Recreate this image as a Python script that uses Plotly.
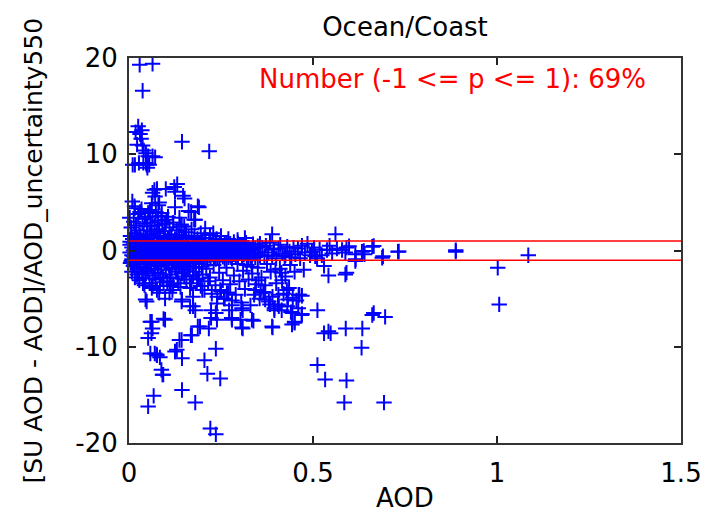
import plotly.graph_objects as go

# ---- data (AOD, normalized difference) ----
high_pts = [
    (0.029, 19.3), (0.064, 19.4), (0.037, 16.6),
    (0.025, 12.9), (0.018, 12.3), (0.030, 12.1), (0.033, 11.6), (0.037, 10.9), (0.040, 10.4),
    (0.046, 10.1), (0.052, 9.8), (0.064, 9.8), (0.046, 9.1), (0.055, 8.9), (0.010, 8.9),
    (0.027, 9.1), (0.039, 9.1), (0.050, 8.6), (0.022, 11.0), (0.035, 12.5), (0.071, 9.7),
    (0.016, 8.9), (0.048, 8.9), (0.144, 11.3), (0.218, 10.3),
    (0.131, 6.9), (0.123, 6.6), (0.076, 6.4), (0.100, 6.4), (0.064, 6.0), (0.147, 5.7),
    (0.187, 4.6), (0.009, 5.1), (0.015, 4.6), (0.082, 5.0), (0.162, 4.1), (0.177, 3.2),
    (0.002, 3.4), (0.137, 3.4), (0.069, 6.3), (0.125, 6.1), (0.151, 5.4), (0.125, 4.5),
    (0.190, 4.5), (0.169, 4.0), (0.180, 3.2), (0.106, 3.5), (0.016, 4.4), (0.030, 4.0),
    (0.044, 3.5), (0.071, 5.6), (0.062, 4.9), (0.080, 4.7), (0.057, 4.2), (0.089, 3.9),
]

upper_pts = [
    (0.004, 1.5), (0.006, 2.4), (0.010, 1.2), (0.013, 3.0), (0.016, 1.8), (0.019, 2.6),
    (0.022, 1.3), (0.025, 3.8), (0.028, 2.1), (0.031, 1.5), (0.034, 4.3), (0.037, 2.8),
    (0.040, 1.7), (0.043, 3.3), (0.046, 1.2), (0.049, 2.5), (0.052, 3.9), (0.055, 1.6),
    (0.058, 2.9), (0.061, 2.0), (0.064, 3.5), (0.067, 1.3), (0.070, 2.6), (0.073, 4.0),
    (0.076, 1.8), (0.079, 3.1), (0.082, 2.2), (0.085, 1.4), (0.088, 3.6), (0.091, 2.7),
    (0.094, 1.5), (0.098, 2.0), (0.102, 3.2), (0.106, 1.3), (0.110, 2.4), (0.115, 1.7),
    (0.120, 2.9), (0.125, 1.2), (0.130, 2.1), (0.136, 1.6), (0.142, 2.7), (0.148, 1.3),
    (0.155, 1.9), (0.162, 1.4), (0.170, 2.2), (0.178, 1.5), (0.186, 1.2), (0.195, 1.8),
    (0.205, 1.3), (0.220, 1.6), (0.238, 1.2), (0.250, 1.5), (0.270, 1.2), (0.295, 1.1),
    (0.315, 1.3), (0.150, 2.5), (0.143, 2.5), (0.098, 2.8), (0.207, 2.3), (0.229, 1.8),
]

band_pts = [
    (0.003, 0.6), (0.003, -0.2), (0.003, 0.9), (0.008, -0.5), (0.008, 0.3), (0.008, -0.9),
    (0.012, 0.8), (0.012, 0.0), (0.012, -0.6), (0.017, -0.3), (0.017, 0.5), (0.017, 0.95),
    (0.021, 0.2), (0.021, -0.8), (0.021, 0.7), (0.026, -0.1), (0.026, 0.6), (0.026, -0.5),
    (0.030, 0.4), (0.030, -0.7), (0.030, 0.9), (0.034, -0.4), (0.034, 0.1), (0.034, 0.75),
    (0.039, 0.6), (0.039, -0.9), (0.039, -0.2), (0.043, 0.0), (0.043, 0.85), (0.043, -0.6),
    (0.048, -0.35), (0.048, 0.45), (0.048, 0.95), (0.052, 0.7), (0.052, -0.75), (0.052, 0.15),
    (0.057, -0.5), (0.057, 0.3), (0.057, -0.05), (0.061, 0.9), (0.061, -0.3), (0.061, 0.5),
    (0.066, -0.8), (0.066, 0.1), (0.066, 0.65), (0.070, 0.35), (0.070, -0.55), (0.070, -0.95),
    (0.075, 0.8), (0.075, -0.15), (0.075, 0.2), (0.079, -0.6), (0.079, 0.55), (0.079, -0.3),
    (0.084, 0.1), (0.084, 0.9), (0.084, -0.85), (0.088, -0.4), (0.088, 0.4), (0.088, 0.7),
    (0.093, 0.6), (0.093, -0.65), (0.093, -0.1), (0.097, -0.25), (0.097, 0.25), (0.097, 0.95),
    (0.102, 0.75), (0.102, -0.9), (0.102, 0.05), (0.107, -0.5), (0.107, 0.45), (0.107, -0.2),
    (0.111, 0.3), (0.111, -0.7), (0.111, 0.85), (0.116, -0.05), (0.116, 0.6), (0.116, -0.45),
    (0.120, 0.9), (0.120, -0.3), (0.120, 0.2), (0.125, -0.8), (0.125, 0.4), (0.125, -0.1),
    (0.130, 0.55), (0.130, -0.55), (0.130, 0.8), (0.134, 0.0), (0.134, -0.9), (0.134, 0.35),
    (0.139, 0.7), (0.139, -0.35), (0.139, -0.75), (0.143, -0.15), (0.143, 0.5), (0.143, 0.9),
    (0.148, 0.25), (0.148, -0.6), (0.148, -0.2), (0.153, 0.8), (0.153, -0.85), (0.153, 0.1),
    (0.157, -0.4), (0.157, 0.6), (0.157, -0.05), (0.162, 0.35), (0.162, -0.7), (0.162, 0.9),
    (0.166, -0.25), (0.166, 0.2), (0.166, -0.9), (0.171, 0.65), (0.171, -0.45), (0.171, 0.0),
    (0.176, -0.6), (0.176, 0.45), (0.176, 0.85), (0.180, 0.15), (0.180, -0.3), (0.180, -0.8),
    (0.185, 0.75), (0.185, -0.5), (0.185, 0.3), (0.190, -0.15), (0.190, 0.55), (0.190, -0.95),
    (0.194, 0.4), (0.194, -0.65), (0.194, 0.05), (0.199, -0.35), (0.199, 0.9), (0.199, -0.1),
    (0.204, 0.6), (0.204, -0.8), (0.204, 0.25), (0.208, 0.0), (0.208, -0.4), (0.208, 0.7),
    (0.213, -0.7), (0.213, 0.35), (0.213, -0.2), (0.218, 0.5), (0.218, -0.55), (0.218, 0.95),
    (0.222, -0.25), (0.222, 0.15), (0.222, -0.85), (0.227, 0.7), (0.227, -0.4), (0.227, 0.3),
    (0.232, -0.6), (0.232, 0.55), (0.232, -0.05), (0.236, 0.2), (0.236, -0.9), (0.236, 0.8),
    (0.241, -0.3), (0.241, 0.4), (0.241, -0.6), (0.246, 0.65), (0.246, 0.05), (0.246, -0.75),
    (0.250, -0.15), (0.250, 0.85), (0.250, -0.45), (0.255, 0.35), (0.255, -0.65), (0.255, 0.1),
    (0.260, -0.4), (0.260, 0.6), (0.260, -0.9), (0.265, 0.8), (0.265, -0.2), (0.265, 0.25),
    (0.270, -0.7), (0.270, 0.45), (0.270, -0.35), (0.275, 0.1), (0.275, -0.5), (0.275, 0.7),
    (0.280, -0.85), (0.280, 0.3), (0.280, -0.1), (0.285, 0.55), (0.285, -0.4), (0.285, 0.9),
    (0.290, -0.2), (0.290, 0.15), (0.290, -0.7), (0.296, 0.4), (0.296, -0.55), (0.296, 0.75),
    (0.301, -0.3), (0.301, 0.6), (0.307, 0.2), (0.307, -0.8), (0.312, -0.45), (0.312, 0.5),
    (0.318, 0.8), (0.318, -0.15), (0.324, -0.6), (0.324, 0.3), (0.330, 0.05), (0.330, -0.9),
    (0.337, 0.65), (0.337, -0.35), (0.343, -0.7), (0.343, 0.25), (0.350, 0.45), (0.350, -0.2),
    (0.356, -0.5), (0.356, 0.7),
    (0.362, 0.3), (0.368, -0.6), (0.372, 0.5), (0.378, -0.2), (0.383, 0.8), (0.389, -0.5),
    (0.394, 0.1), (0.400, -0.8), (0.406, 0.2), (0.411, 0.6), (0.417, -0.3), (0.423, -0.6),
    (0.425, -0.5), (0.430, 0.4), (0.436, -0.1), (0.441, -0.7), (0.447, 0.3), (0.452, -0.4),
    (0.459, 0.2), (0.465, -0.8), (0.470, 0.5), (0.478, -0.2), (0.485, 0.7), (0.492, -0.5),
    (0.497, -0.12), (0.503, 0.3), (0.511, -0.8), (0.518, 0.1), (0.524, -0.5), (0.538, 0.05),
    (0.545, 0.5), (0.552, -0.3), (0.565, 0.2), (0.579, 0.05), (0.588, -0.2), (0.598, 0.45),
    (0.615, -0.4), (0.633, -0.12), (0.638, -0.05), (0.661, 0.4), (0.665, 0.47), (0.688, -0.75),
    (0.731, -0.12), (0.888, -0.12), (1.085, -0.5),
]

lower_pts = [
    (0.004, -1.3), (0.008, -2.2), (0.012, -1.6), (0.016, -2.8), (0.020, -1.2), (0.024, -1.9),
    (0.028, -3.1), (0.032, -1.4), (0.036, -2.4), (0.040, -1.8), (0.044, -2.9), (0.048, -1.2),
    (0.052, -2.1), (0.056, -3.4), (0.060, -1.5), (0.064, -2.6), (0.068, -1.9), (0.072, -3.0),
    (0.076, -1.3), (0.080, -2.3), (0.084, -3.7), (0.088, -1.7), (0.092, -2.8), (0.096, -1.2),
    (0.100, -2.0), (0.104, -3.2), (0.108, -1.5), (0.112, -2.5), (0.116, -1.9), (0.120, -3.5),
    (0.124, -1.3), (0.128, -2.2), (0.132, -2.9), (0.136, -1.6), (0.140, -3.8), (0.144, -2.4),
    (0.148, -1.4),
    (0.006, -1.1), (0.014, -1.4), (0.022, -2.5), (0.030, -1.7), (0.038, -3.4), (0.046, -2.2),
    (0.054, -1.3), (0.062, -3.9), (0.070, -2.4), (0.078, -1.6), (0.086, -2.9), (0.094, -3.3),
    (0.102, -1.2), (0.110, -2.8), (0.118, -4.1), (0.126, -1.8), (0.134, -3.4), (0.142, -1.2),
    (0.150, -2.7), (0.158, -1.6), (0.166, -3.9), (0.174, -2.6), (0.182, -1.3), (0.190, -2.9),
    (0.198, -1.7),
    (0.152, -2.0), (0.156, -3.0), (0.160, -1.3), (0.165, -2.6), (0.170, -3.4), (0.175, -1.8),
    (0.180, -2.2), (0.185, -3.0), (0.190, -1.4), (0.195, -3.7), (0.200, -2.5), (0.205, -4.1),
    (0.210, -1.9), (0.215, -3.2), (0.220, -2.8), (0.225, -4.5), (0.230, -1.5), (0.235, -3.6),
    (0.240, -4.8), (0.245, -2.3), (0.250, -4.2), (0.255, -3.1), (0.260, -5.0), (0.265, -1.8),
    (0.270, -4.4), (0.275, -3.5), (0.280, -5.2), (0.285, -2.6), (0.290, -4.6), (0.295, -1.4),
    (0.300, -3.2), (0.305, -5.4), (0.310, -2.1), (0.315, -4.0), (0.320, -1.5), (0.325, -3.0),
    (0.330, -5.7), (0.335, -2.4), (0.340, -4.6), (0.345, -3.5), (0.350, -1.8), (0.355, -5.0),
    (0.360, -2.8), (0.365, -4.3), (0.370, -3.6), (0.375, -1.4), (0.380, -5.3), (0.385, -2.2),
    (0.390, -4.8), (0.395, -6.0), (0.400, -3.4), (0.405, -5.6), (0.410, -1.9), (0.415, -6.2),
    (0.420, -4.5), (0.425, -2.7), (0.430, -5.8), (0.435, -3.9), (0.440, -6.4), (0.445, -4.9),
    (0.450, -2.2), (0.455, -5.2), (0.460, -6.0),
]

scatter_pts = [
    (0.042, -3.6), (0.045, -5.1), (0.076, -4.1), (0.110, -4.4), (0.144, -5.1), (0.174, -5.8),
    (0.223, -6.2), (0.236, -6.5), (0.272, -6.2), (0.309, -6.2), (0.334, -7.2), (0.309, -8.1),
    (0.389, -7.9), (0.395, -6.2), (0.407, -5.8), (0.432, -5.1), (0.463, -4.6), (0.444, -6.5),
    (0.450, -7.5), (0.469, -6.7), (0.512, -6.2), (0.383, -5.6), (0.370, -5.1), (0.358, -4.4),
    (0.266, -4.4), (0.248, -4.1), (0.199, -4.1), (0.174, -4.8), (0.113, -3.7), (0.082, -4.4),
    (0.064, -3.7), (0.058, -7.4), (0.064, -8.1), (0.094, -7.1), (0.061, -8.6), (0.052, -9.1),
    (0.058, -10.7), (0.070, -10.7), (0.076, -10.9), (0.088, -12.4), (0.091, -12.9), (0.125, -10.5),
    (0.137, -9.3), (0.144, -11.2), (0.168, -8.8), (0.187, -7.9), (0.217, -8.1), (0.236, -10.2),
    (0.205, -11.4), (0.213, -12.8), (0.248, -13.3), (0.144, -14.5), (0.067, -15.1), (0.052, -16.2),
    (0.180, -15.8), (0.221, -18.5), (0.236, -19.1), (0.303, -7.2), (0.279, -7.0), (0.223, -7.0),
    (0.048, -5.3), (0.098, -5.0), (0.143, -5.3), (0.166, -5.8), (0.180, -6.2), (0.239, -5.5),
    (0.258, -5.0), (0.280, -5.7), (0.307, -6.0), (0.239, -7.2), (0.280, -7.2), (0.307, -8.0),
    (0.062, -7.4), (0.098, -7.2), (0.143, -9.3), (0.171, -8.8), (0.193, -7.9), (0.075, -10.8),
    (0.084, -11.1), (0.130, -10.3), (0.093, -12.9),
    (0.561, 1.7), (0.389, 1.7), (0.591, 0.3), (0.733, -0.1), (0.888, 0.03), (1.002, -1.8),
    (1.006, -5.6), (0.690, -0.6), (0.640, -0.4), (0.616, -0.9), (0.591, -2.3), (0.542, -2.6),
    (0.530, -1.6), (0.506, -0.6), (0.475, -2.0), (0.438, -1.5), (0.414, -2.3), (0.530, -8.6),
    (0.542, -8.4), (0.548, -8.6), (0.589, -8.1), (0.634, -8.1), (0.632, -10.1), (0.665, -6.5),
    (0.696, -6.9), (0.512, -11.9), (0.533, -13.4), (0.591, -13.5), (0.585, -15.8), (0.693, -15.8),
    (0.661, -6.7), (0.338, -7.3), (0.390, -8.0), (0.443, -7.7), (0.470, -6.6), (0.450, -7.4),
    (0.615, -1.1), (0.588, -2.5), (0.398, -2.0), (0.416, -3.1), (0.334, -1.7), (0.352, -3.1),
    (0.343, -4.1), (0.429, -4.1), (0.461, -4.6), (0.406, -4.6), (0.370, -4.4), (0.470, -4.7),
]

ref_x = [0.0, 1.5]
ref_upper = [1, 1]
ref_lower = [-1, -1]

x_ticks = [0, 0.5, 1, 1.5]
x_labels = ["0", "0.5", "1", "1.5"]
y_ticks = [-20, -10, 0, 10, 20]
y_labels = ["-20", "-10", "0", "10", "20"]

title_text = "Ocean/Coast"
xlabel_text = "AOD"
ylabel_text = "[SU AOD - AOD]/AOD_uncertainty550"
note_text = "Number (-1 <= p <= 1): 69%"

all_pts = high_pts + upper_pts + band_pts + lower_pts + scatter_pts
aod = [p[0] for p in all_pts]
ratio = [p[1] for p in all_pts]

FONT = "DejaVu Sans"

fig = go.Figure()
fig.add_trace(go.Scatter(
    x=aod, y=ratio, mode="markers", cliponaxis=False,
    marker=dict(symbol="cross-thin", size=11, color="#0000FF",
                line=dict(color="#0000FF", width=2)),
    showlegend=False, hoverinfo="skip"))
fig.add_trace(go.Scatter(x=ref_x, y=ref_upper, mode="lines",
                         line=dict(color="#FF0000", width=1.5), showlegend=False))
fig.add_trace(go.Scatter(x=ref_x, y=ref_lower, mode="lines",
                         line=dict(color="#FF0000", width=1.5), showlegend=False))

axis_common = dict(showline=True, linecolor="#333333", linewidth=2, mirror="ticks",
                   ticks="inside", ticklen=7, tickwidth=1.5, tickcolor="#222222",
                   showgrid=False, zeroline=False, automargin=False,
                   tickfont=dict(family=FONT, size=26, color="black"))

fig.update_layout(
    template="none",
    width=705, height=523,
    margin=dict(l=129, r=24, t=58, b=80),
    paper_bgcolor="white", plot_bgcolor="white",
    title=dict(text=title_text, x=0.5, xref="paper", y=1 - 27 / 523, yref="container",
               xanchor="center", yanchor="middle",
               font=dict(family=FONT, size=26, color="black")),
    xaxis=dict(range=[0, 1.5], tickvals=x_ticks, ticktext=x_labels,
               ticklabelstandoff=6, **axis_common),
    yaxis=dict(range=[-20, 20], tickvals=y_ticks, ticktext=y_labels,
               ticklabelstandoff=4, **axis_common),
    annotations=[
        dict(text=note_text, x=0.88, y=17.8, xref="x", yref="y", showarrow=False,
             xanchor="center", yanchor="middle",
             font=dict(family=FONT, size=26, color="#FF0000")),
        dict(text=xlabel_text, x=0.5, y=(443 - 498) / 385, xref="paper", yref="paper",
             showarrow=False, xanchor="center", yanchor="middle",
             font=dict(family=FONT, size=26, color="black")),
        dict(text=ylabel_text, x=(33 - 129) / 552, y=0.5, xref="paper", yref="paper",
             showarrow=False, xanchor="center", yanchor="middle", textangle=-90,
             font=dict(family=FONT, size=25, color="black")),
    ],
)

fig.write_html("out.html")
